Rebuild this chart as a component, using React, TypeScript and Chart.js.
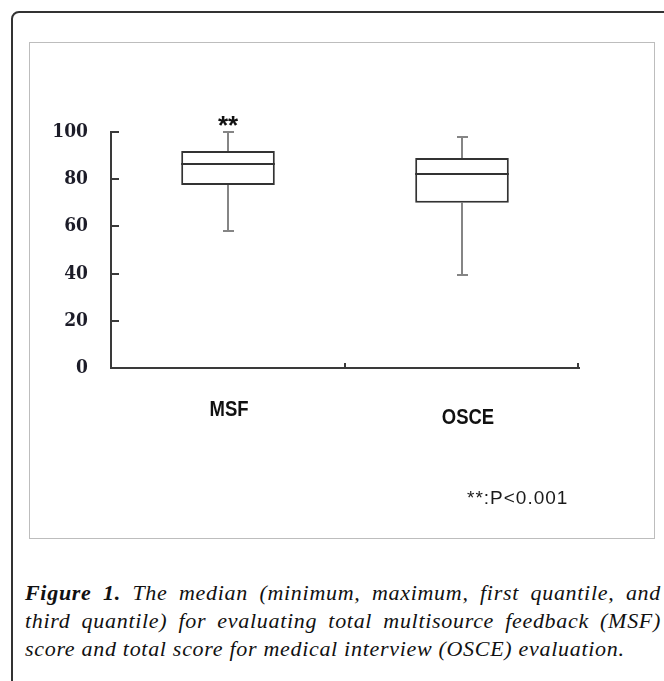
import React, { useEffect, useRef } from "react";
import { Chart, registerables } from "chart.js";

Chart.register(...registerables);

// ---- data ----
const categories = ["MSF", "OSCE"];
const minValues = [58, 39.5];
const q1Values = [77.5, 70];
const medianValues = [86.5, 82];
const q3Values = [92, 89];
const maxValues = [100, 98];
const significanceMarks = ["**", ""];
const yMin = 0;
const yMax = 100;
const yStep = 20;
const pNote = "**:P<0.001";
const captionBold = "Figure 1.";
const captionLines = [
  " The median (minimum, maximum, first quantile, and",
  "third quantile) for evaluating total multisource feedback (MSF)",
  "score and total score for medical interview (OSCE) evaluation.",
];

const AXIS_COLOR = "#3a3a3a";
const BOX_COLOR = "#333333";
const WHISKER_COLOR = "#858585";

const boxPlugin = {
  id: "boxExtras",
  beforeDatasetsDraw(chart: any) {
    const { ctx } = chart;
    const xs = chart.scales.x;
    const ys = chart.scales.y;
    ctx.save();
    ctx.strokeStyle = WHISKER_COLOR;
    ctx.lineWidth = 2;
    categories.forEach((_, i) => {
      const cx = Math.round(xs.getPixelForValue(i));
      const pMax = Math.round(ys.getPixelForValue(maxValues[i]));
      const pMin = Math.round(ys.getPixelForValue(minValues[i]));
      const pQ1 = ys.getPixelForValue(q1Values[i]);
      const pQ3 = ys.getPixelForValue(q3Values[i]);
      ctx.beginPath();
      ctx.moveTo(cx, pMax);
      ctx.lineTo(cx, pQ3);
      ctx.moveTo(cx, pQ1);
      ctx.lineTo(cx, pMin);
      ctx.moveTo(cx - 5, pMax);
      ctx.lineTo(cx + 6, pMax);
      ctx.moveTo(cx - 5, pMin);
      ctx.lineTo(cx + 6, pMin);
      ctx.stroke();
    });
    ctx.restore();
  },
  afterDatasetsDraw(chart: any) {
    const { ctx, chartArea } = chart;
    const xs = chart.scales.x;
    const ys = chart.scales.y;
    const meta = chart.getDatasetMeta(0);
    ctx.save();
    // medians
    ctx.strokeStyle = BOX_COLOR;
    ctx.lineWidth = 2;
    meta.data.forEach((bar: any, i: number) => {
      const { x, width } = bar.getProps(["x", "width"], true);
      const pm = Math.round(ys.getPixelForValue(medianValues[i]));
      ctx.beginPath();
      ctx.moveTo(x - width / 2, pm);
      ctx.lineTo(x + width / 2, pm);
      ctx.stroke();
    });
    // inward y ticks
    ctx.strokeStyle = AXIS_COLOR;
    ctx.lineWidth = 2;
    ys.ticks.forEach((t: any) => {
      if (t.value === yMin) return;
      const py = Math.round(ys.getPixelForValue(t.value));
      ctx.beginPath();
      ctx.moveTo(chartArea.left, py);
      ctx.lineTo(chartArea.left + 8, py);
      ctx.stroke();
    });
    // inward x ticks at category boundaries
    const boundaries: number[] = [];
    for (let i = 0; i < categories.length - 1; i++) {
      boundaries.push((xs.getPixelForValue(i) + xs.getPixelForValue(i + 1)) / 2);
    }
    boundaries.push(chartArea.right - 1);
    ctx.lineWidth = 2;
    boundaries.forEach((bx) => {
      const px = Math.round(bx);
      ctx.beginPath();
      ctx.moveTo(px, chartArea.bottom);
      ctx.lineTo(px, chartArea.bottom - 5);
      ctx.stroke();
    });
    // significance marks
    ctx.fillStyle = "#111";
    ctx.font = "bold 26px 'Liberation Sans'";
    ctx.textAlign = "center";
    ctx.textBaseline = "alphabetic";
    significanceMarks.forEach((m, i) => {
      if (!m) return;
      const cx = xs.getPixelForValue(i);
      const py = ys.getPixelForValue(maxValues[i]);
      ctx.fillText(m, cx, py + 2);
    });
    // category labels (staggered like the original)
    ctx.font = "bold 22px 'Liberation Sans'";
    ctx.textBaseline = "middle";
    categories.forEach((c, i) => {
      const cx = xs.getPixelForValue(i) + (i === 0 ? 1 : 6);
      const cy = chartArea.bottom + (i === 0 ? 42 : 50);
      ctx.save();
      ctx.translate(cx, cy);
      ctx.scale(0.84, 1);
      ctx.fillText(c, 0, 0);
      ctx.restore();
    });
    ctx.restore();
  },
};

function BoxChart() {
  const ref = useRef<HTMLCanvasElement | null>(null);
  useEffect(() => {
    if (!ref.current) return;
    const chart = new Chart(ref.current, {
      type: "bar",
      data: {
        labels: categories,
        datasets: [
          {
            data: categories.map((_, i) => [q1Values[i], q3Values[i]]) as any,
            backgroundColor: "#ffffff",
            borderColor: BOX_COLOR,
            borderWidth: 2,
            borderSkipped: false,
            barPercentage: 0.4,
            categoryPercentage: 1,
          },
        ],
      },
      options: {
        animation: false,
        responsive: false,
        layout: { padding: { left: 0, top: 90, right: 77, bottom: 172 } },
        plugins: {
          legend: { display: false },
          tooltip: { enabled: false },
        },
        scales: {
          x: {
            type: "category",
            offset: true,
            ticks: { display: false },
            grid: { display: false, drawTicks: false },
            border: { display: true, color: AXIS_COLOR, width: 2 },
            afterFit: (s: any) => {
              s.height = 0;
            },
          },
          y: {
            min: yMin,
            max: yMax,
            ticks: {
              stepSize: yStep,
              padding: 23,
              color: "#1c1c28",
              font: {
                family: "'DejaVu Serif Condensed', 'DejaVu Serif'",
                weight: "bold",
                size: 19,
              },
            },
            grid: { display: false, drawTicks: false },
            border: { display: true, color: AXIS_COLOR, width: 2 },
            afterFit: (s: any) => {
              s.width = 82;
            },
          },
        },
      },
      plugins: [boxPlugin],
    } as any);
    return () => chart.destroy();
  }, []);
  return (
    <canvas
      ref={ref}
      width={627}
      height={498}
      style={{ width: 627, height: 498, display: "block" }}
    />
  );
}

export default function App() {
  return (
    <div
      style={{
        position: "fixed",
        left: 0,
        top: 0,
        width: 664,
        height: 681,
        overflow: "hidden",
        background: "#fff",
      }}
    >
      <div
        style={{
          position: "absolute",
          left: 11,
          top: 11,
          width: 720,
          height: 720,
          border: "2px solid #333",
          borderRadius: 8,
        }}
      />
      <div
        style={{
          position: "absolute",
          left: 29,
          top: 42,
          width: 626,
          height: 497,
          boxSizing: "border-box",
          border: "1px solid #bdbdbd",
        }}
      />
      <div style={{ position: "absolute", left: 29, top: 42 }}>
        <BoxChart />
      </div>
      <div
        style={{
          position: "absolute",
          left: 467,
          top: 486,
          font: "19px 'Liberation Sans'",
          letterSpacing: 1,
          color: "#1a1a1a",
          lineHeight: "24px",
          whiteSpace: "nowrap",
        }}
      >
        {pNote}
      </div>
      <div
        style={{
          position: "absolute",
          left: 25,
          top: 579,
          width: 636,
          font: "italic 22px 'Liberation Serif'",
          letterSpacing: 0.7,
          lineHeight: "28px",
          color: "#111",
        }}
      >
        <div style={{ textAlign: "justify", textAlignLast: "justify" }}>
          <b>{captionBold}</b>
          {captionLines[0]}
        </div>
        <div style={{ textAlign: "justify", textAlignLast: "justify" }}>
          {captionLines[1]}
        </div>
        <div>{captionLines[2]}</div>
      </div>
    </div>
  );
}
